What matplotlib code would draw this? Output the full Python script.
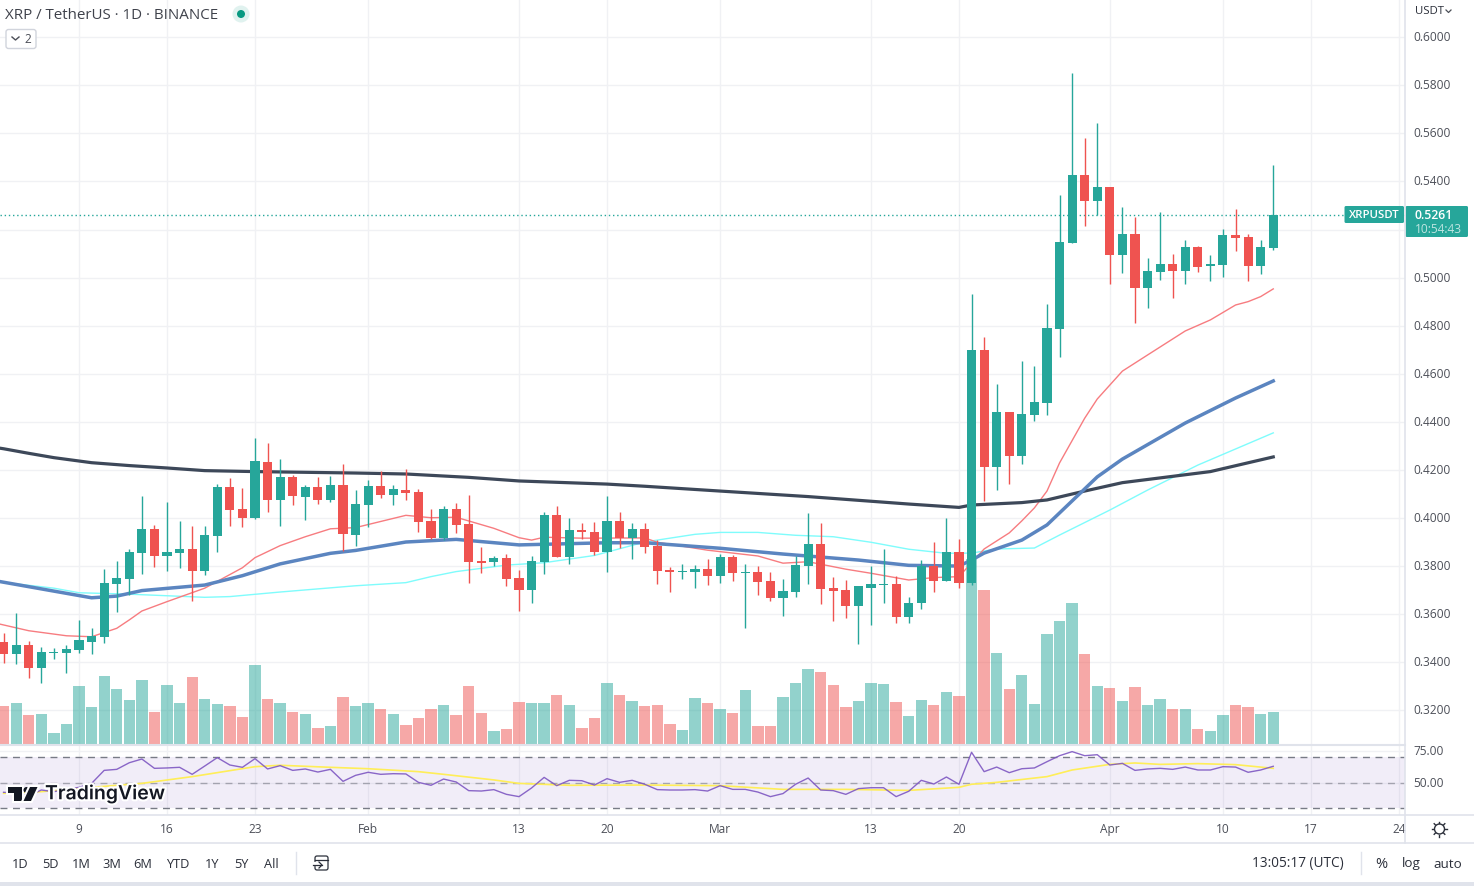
import numpy as np
import matplotlib
matplotlib.use('Agg')
import matplotlib.pyplot as plt
import matplotlib.patheffects as pe
from matplotlib.patches import Rectangle, FancyBboxPatch, Circle, Polygon
from matplotlib.transforms import ScaledTranslation

plt.rcParams['font.family'] = ['Open Sans', 'DejaVu Sans']

# daily candles, Jan 3 to Apr 14
opens = [.3484,.3434,.3472,.3376,.3438,.3438,.3451,.3484,.3505,.3725,.3746,.3854,.3954,.3842,.3854,.3871,.3779,.3925,.4129,.4037,.4000,.4233,.4075,.4170,.4087,.4129,.4075,.4137,.3929,
         .4054,.4133,.4096,.4116,.4108,.3987,.3917,.4037,.3975,.3821,.3817,.3833,.3750,.3700,.3817,.4012,.3838,.3950,.3942,.3858,.3987,.3917,.3954,.3883,.3784,.3775,.3775,.3788,
         .3759,.3838,.3771,.3775,.3738,.3667,.3692,.3800,.3892,.3709,.3700,.3634,.3709,.3721,.3725,.3588,.3646,.3800,.3738,.3858,.3730,.4699,.4212,.4441,.4258,.4428,.4478,.4786,.5144,.5427,.5319,
         .5377,.5094,.5181,.4957,.5023,.5057,.5027,.5127,.5048,.5052,.5177,.5169,.5048,.5123]
closes = [.3434,.3472,.3376,.3442,.3442,.3455,.3492,.3509,.3730,.3750,.3858,.3954,.3842,.3858,.3871,.3779,.3929,.4129,.4033,.4000,.4237,.4075,.4170,.4091,.4129,.4075,.4137,.3933,.4058,
          .4133,.4096,.4120,.4104,.3983,.3917,.4037,.3971,.3817,.3813,.3833,.3746,.3700,.3821,.4012,.3838,.3950,.3942,.3858,.3987,.3917,.3954,.3879,.3779,.3775,.3779,.3788,.3759,
          .3838,.3771,.3775,.3734,.3667,.3696,.3804,.3892,.3705,.3696,.3634,.3717,.3725,.3725,.3588,.3646,.3800,.3738,.3858,.3730,.4699,.4212,.4441,.4258,.4433,.4482,.4790,.5148,.5427,.5319,.5377,
          .5094,.5181,.4957,.5027,.5057,.5027,.5127,.5044,.5057,.5177,.5165,.5048,.5127,.5261]
highs = [.3520,.3605,.3488,.3463,.3459,.3472,.3576,.3542,.3788,.3821,.3871,.4091,.3971,.4066,.3987,.3967,.3967,.4141,.4166,.4125,.4333,.4312,.4245,.4179,.4137,.4170,.4175,.4225,.4116,
         .4158,.4195,.4137,.4204,.4120,.4037,.4050,.4062,.4096,.3879,.3842,.3850,.3784,.3842,.4025,.4050,.4000,.3979,.3983,.4091,.4025,.3979,.3979,.3908,.3796,.3809,.3804,.3829,
         .3850,.3846,.3809,.3800,.3775,.3746,.3842,.4021,.3979,.3754,.3742,.3717,.3800,.3871,.3759,.3671,.3825,.3900,.4000,.3913,.4932,.4753,.4557,.4441,.4653,.4632,.4890,.5344,.5851,.5581,.5643,
         .5377,.5294,.5252,.5082,.5273,.5098,.5156,.5131,.5094,.5202,.5285,.5181,.5156,.5468]
lows = [.3398,.3393,.3334,.3314,.3413,.3355,.3438,.3434,.3480,.3609,.3680,.3767,.3796,.3779,.3792,.3655,.3763,.3858,.3967,.3962,.3996,.4025,.3967,.4054,.3992,.4058,.4066,.3863,.3883,
        .3962,.4083,.4054,.4075,.3942,.3913,.3908,.3938,.3730,.3771,.3800,.3717,.3613,.3646,.3767,.3838,.3809,.3913,.3846,.3775,.3875,.3829,.3854,.3725,.3692,.3746,.3709,.3721,
        .3730,.3738,.3542,.3680,.3655,.3592,.3671,.3725,.3642,.3571,.3584,.3476,.3555,.3646,.3563,.3563,.3621,.3692,.3738,.3709,.3721,.4071,.4116,.4141,.4225,.4403,.4428,.4670,.5144,.5215,.5260,
        .4973,.5019,.4811,.4874,.4990,.4915,.4973,.5023,.4986,.5002,.5111,.4986,.5015,.5115]
# volume, no scale on the chart so relative units
volumes = [39,42,30,31,12,21,59,38,69,56,45,65,33,60,42,68,46,41,39,28,80,46,42,33,31,17,19,48,39,
           42,36,31,20,27,36,40,30,59,32,14,16,43,42,42,50,40,17,27,62,50,44,39,40,21,15,47,42,
           36,32,55,19,19,48,62,76,73,60,38,44,62,61,43,29,45,40,53,49,186,155,92,56,70,41,111,124,142,91,59,
           57,44,58,40,46,36,36,16,14,30,40,38,31,33]

# moving averages, read at the days where the slope changes
ma_red_days = [-1,2,5,7,9,10,11,13,16,19,20,22,24,26,28,32,34,36,39,41,42,43,46,51,52,56,60,62,64,67,69,72,74,76,78,80,81,82,83,84,86,87,89,91,94,96,98,99,100,101]
ma_red = [.3567,.3531,.3510,.3506,.3541,.3576,.3613,.3652,.3708,.3793,.3835,.3885,.3922,.3955,.3960,.4011,.4001,.4003,.3957,.3918,.3908,.3920,.3916,.3917,.3899,.3866,.3842,.3812,.3818,.3787,.3770,.3742,.3752,.3756,.3871,.3938,.3988,.4042,.4112,.4229,.4415,.4495,.4611,.4678,.4778,.4824,.4886,.4900,.4921,.4953]
ma_blue_days = [-1,7,9,11,16,19,22,26,28,32,36,41,48,51,57,62,68,72,76,77,78,81,83,84,87,89,94,98,101]
ma_blue = [.3742,.3668,.3675,.3698,.3721,.3760,.3809,.3853,.3865,.3900,.3911,.3888,.3897,.3897,.3874,.3850,.3825,.3803,.3800,.3825,.3854,.3908,.3971,.4021,.4171,.4245,.4395,.4499,.4570]
ma_cyan_days = [-1,4,6,10,16,18,22,28,32,34,36,40,43,47,51,55,57,60,63,66,69,72,75,77,79,82,84,88,91,95,101]
ma_cyan = [.3738,.3708,.3689,.3683,.3670,.3673,.3692,.3718,.3731,.3756,.3777,.3804,.3814,.3844,.3900,.3932,.3940,.3940,.3928,.3922,.3899,.3870,.3853,.3854,.3871,.3875,.3929,.4033,.4116,.4220,.4354]
ma_dark_days = [-1,0,2,4,7,10,13,16,20,28,32,37,41,48,51,57,64,72,76,77,81,83,86,89,96,101]
ma_dark = [.4296,.4288,.4269,.4251,.4230,.4218,.4208,.4197,.4193,.4187,.4183,.4169,.4154,.4141,.4132,.4112,.4089,.4058,.4044,.4054,.4064,.4075,.4112,.4147,.4193,.4254]

rsi = [42.7,42.2,40.0,44.5,43.2,45.0,46.6,49.7,59.9,60.7,65.9,68.8,61.5,61.8,62.3,56.8,63.3,69.9,64.1,62.3,69.1,61.0,63.6,59.9,61.0,58.6,60.7,51.3,56.0,
       58.4,56.8,57.3,57.1,50.5,48.2,53.1,50.8,44.0,43.7,44.8,41.1,39.3,46.1,54.4,47.9,52.1,51.8,48.4,53.4,50.5,52.1,49.0,44.8,44.5,44.5,44.8,43.7,
       47.9,45.0,45.0,42.9,39.3,41.7,49.0,53.9,44.5,44.0,41.1,45.6,46.3,46.3,39.3,43.5,52.1,49.2,54.7,49.0,74.1,58.9,62.5,58.1,61.2,61.8,66.7,71.4,74.6,71.4,72.2,
       64.1,65.4,59.9,61.0,61.5,60.7,62.5,60.2,60.2,62.8,62.5,58.4,60.2,63.1]
rsi_ma_days = [0,3,7,11,15,20,22,26,29,33,35,39,41,45,51,57,62,67,72,76,77,79,83,85,88,90,92,95,98,101]
rsi_ma = [41.9,43.2,46.6,49.7,55.0,62.8,63.9,62.3,61.2,58.9,56.8,52.4,49.7,48.2,48.4,47.9,45.0,45.0,44.2,46.6,49.0,50.5,55.0,60.2,64.6,65.7,64.6,65.2,64.4,61.5]

price_ticks = [.32,.34,.36,.38,.40,.42,.44,.46,.48,.50,.52,.54,.56,.58,.60]
date_ticks = [6,13,20,29,41,48,57,69,76,88,97,104,111]
date_labels = ['9','16','23','Feb','13','20','Mar','13','20','Apr','10','17','24']
rsi_ticks = [50,75]
last_price = 0.5261

GREEN = '#26a69a'
RED = '#ef5350'
GRID = '#f0f1f4'
LINE = '#e0e3eb'
TEXT = '#4c4f58'

W, H = 1474, 886
fig = plt.figure(figsize=(W/100, H/100), dpi=100, facecolor='white')

def pane(x0, y0, x1, y1):
    return fig.add_axes([x0/W, 1-y1/H, (x1-x0)/W, (y1-y0)/H])

#%% price pane
ax = pane(0, 0, 1405, 745)
days = np.arange(len(opens))
opens = np.array(opens); closes = np.array(closes)
up = closes >= opens
colors = np.where(up, GREEN, RED)

ymin, ymax = 0.30556, 0.61548
ax.set_xlim(-0.286, 111.48)
ax.set_ylim(ymin, ymax)
ax.set_xticks(date_ticks)
ax.set_yticks(price_ticks)
ax.grid(True, color=GRID, lw=1, zorder=0)
ax.set_axisbelow(True)
ax.yaxis.tick_right()
# the 0.5200 label sits under the last price box
ax.set_yticklabels(['' if p == .52 else '%.4f' % p for p in price_ticks], fontsize=8.6, color=TEXT)
ax.tick_params(axis='y', length=0, pad=6)
ax.tick_params(axis='x', length=0, labelbottom=False)
for s in ax.spines.values():
    s.set_visible(False)
up_1px = ScaledTranslation(0, 1/100, fig.dpi_scale_trans)
for t in ax.get_yticklabels():
    t.set_transform(t.get_transform() + up_1px)

vol_scale = (ymax-ymin)/745
ax.bar(days, np.array(volumes)*vol_scale, bottom=ymin, width=0.9, color=colors, alpha=0.5, lw=0, zorder=1)

ax.plot(ma_cyan_days, ma_cyan, color='#7ffcfc', lw=1.0, zorder=2)
ax.plot(ma_red_days, ma_red, color='#f77c80', lw=1.0, zorder=2)
ax.plot(ma_dark_days, ma_dark, color='#3d4859', lw=2.3, zorder=2)
ax.plot(ma_blue_days, ma_blue, color='#5b85c0', lw=2.5, zorder=2)

ax.axhline(last_price, color=GREEN, lw=1, ls=(0, (1, 2)), zorder=2)

ax.vlines(days, lows, highs, colors=colors, lw=1.0, zorder=3)
ax.bar(days, closes-opens, bottom=opens, width=0.72, color=colors, lw=0, zorder=4)

#%% rsi pane
ax2 = pane(0, 745, 1405, 815)
ax2.set_xlim(-0.286, 111.48)
ax2.set_ylim(24.9, 79.8)
ax2.axhspan(30, 70, color='#7e57c2', alpha=0.1, lw=0, zorder=1)
ax2.axhline(70, color='#787b86', lw=1, ls=(0, (5, 4)), zorder=2)
ax2.axhline(50, color='#787b86', lw=1, ls=(0, (5, 4)), alpha=0.6, zorder=2)
ax2.axhline(30, color='#787b86', lw=1, ls=(0, (5, 4)), zorder=2)
ax2.plot(rsi_ma_days, rsi_ma, color='#ffee58', lw=1.2, zorder=3)
ax2.plot(days, rsi, color='#7e57c2', lw=1.0, alpha=0.9, zorder=4)
ax2.set_xticks(date_ticks)
ax2.set_xticklabels(date_labels, fontsize=8.6, color=TEXT)
ax2.set_yticks(rsi_ticks)
ax2.set_yticklabels(['%.2f' % v for v in rsi_ticks], fontsize=8.6, color=TEXT)
ax2.yaxis.tick_right()
ax2.grid(True, color=GRID, lw=1, zorder=0)
ax2.set_axisbelow(True)
ax2.tick_params(axis='y', length=0, pad=6)
ax2.tick_params(axis='x', length=0, pad=5.5)
for s in ax2.spines.values():
    s.set_visible(False)
for t in ax2.get_yticklabels():
    t.set_transform(t.get_transform() + up_1px)

#%% everything around the chart, in pixels
ui = fig.add_axes([0, 0, 1, 1], zorder=10)
ui.set_xlim(0, W)
ui.set_ylim(H, 0)
ui.axis('off')
ui.patch.set_alpha(0)

def label(x, y, s, size=8.6, color=TEXT, ha='center', **kw):
    return ui.text(x, y, s, fontsize=size, color=color, ha=ha, va='center', **kw)

ui.plot([0, 1405], [745, 745], color=LINE, lw=1.5)
ui.plot([0, 1474], [815, 815], color=LINE, lw=1.2)
ui.plot([0, 1474], [843, 843], color=LINE, lw=1.2)
ui.plot([1405.5, 1405.5], [0, 843], color=LINE, lw=1.2)
ui.add_patch(Rectangle((0, 882), W, 4, color=LINE, lw=0))

# header
label(5, 15, 'XRP / TetherUS · 1D · BINANCE', size=10.9, color='#3f424b', ha='left')
ui.add_patch(Circle((241, 14), 8.5, color='#e0f2ef', lw=0))
ui.add_patch(Circle((241, 14), 4, color='#089981', lw=0))
ui.add_patch(FancyBboxPatch((6, 29.5), 30, 19, boxstyle='round,pad=0,rounding_size=2.5', fc='white', ec='#d1d4dc', lw=1))
ui.plot([12, 15.5, 19], [37, 40, 37], color=TEXT, lw=1)
label(28, 39, '2', size=8.6)

# right scale
label(1415, 11, 'USDT', size=8.2, color='#2a2e39', ha='left')
ui.plot([1446, 1448.5, 1451], [10, 12.5, 10], color=TEXT, lw=0.9)
ui.add_patch(FancyBboxPatch((1344.5, 206), 59.5, 17, boxstyle='round,pad=0,rounding_size=1.5', fc=GREEN, ec='none'))
ui.add_patch(FancyBboxPatch((1405.5, 206), 62.5, 31, boxstyle='round,pad=0,rounding_size=1.5', fc=GREEN, ec='none'))
label(1374, 215, 'XRPUSDT', size=8.2, color='white', weight='semibold')
label(1415, 215, '%.4f' % last_price, size=8.8, color='white', ha='left', weight='semibold')
label(1415, 229, '10:54:43', size=8.6, color='#bfe5e1', ha='left')

# logo
halo = [pe.withStroke(linewidth=3, foreground='white')]
ui.add_patch(Polygon([(8, 787), (22, 787), (22, 801), (14, 801), (14, 793), (8, 793)], closed=True, color='#131722', lw=0, path_effects=halo))
ui.add_patch(Circle((26.5, 790), 3, color='#131722', lw=0))
ui.add_patch(Polygon([(30, 787), (37.5, 787), (31, 801), (23.5, 801)], closed=True, color='#131722', lw=0, path_effects=halo))
label(45, 794, 'TradingView', size=14, color='#131722', ha='left', weight='semibold',
      family=['Inter', 'DejaVu Sans'], path_effects=halo)

# sun icon at the bottom right of the time scale
ui.add_patch(Circle((1439.5, 829), 5, fc='none', ec='#2a2e39', lw=1))
for ang in np.arange(0, 360, 45):
    a = np.radians(ang)
    ui.plot([1439.5+6*np.cos(a), 1439.5+7.5*np.cos(a)], [829+6*np.sin(a), 829+7.5*np.sin(a)], color='#2a2e39', lw=1)

# bottom toolbar
for x, s in zip([20, 50, 81, 112, 143, 178, 212, 241, 271], ['1D', '5D', '1M', '3M', '6M', 'YTD', '1Y', '5Y', 'All']):
    label(x, 864, s, size=9.2, color='#2a2e39')
ui.plot([296.5, 296.5], [852, 874], color=LINE, lw=1)
ui.plot([1361.5, 1361.5], [852, 874], color=LINE, lw=1)
ui.add_patch(FancyBboxPatch((315, 856), 13, 14, boxstyle='round,pad=0,rounding_size=2', fc='none', ec='#2a2e39', lw=0.9))
ui.plot([315, 328], [859.5, 859.5], color='#2a2e39', lw=0.9)
ui.plot([313, 322], [864, 864], color='white', lw=3)
ui.plot([313, 322], [865, 865], color='#2a2e39', lw=0.9)
ui.plot([319, 322, 319], [862, 865, 868], color='#2a2e39', lw=0.9)
label(1297.5, 864, '13:05:17 (UTC)', size=9.8, color='#2a2e39')
label(1381, 864, '%', size=10.5, color='#2a2e39')
label(1411, 864, 'log', size=9.6, color='#2a2e39')
label(1448, 864, 'auto', size=9.6, color='#2a2e39')

fig.savefig('out.png', dpi=100)
